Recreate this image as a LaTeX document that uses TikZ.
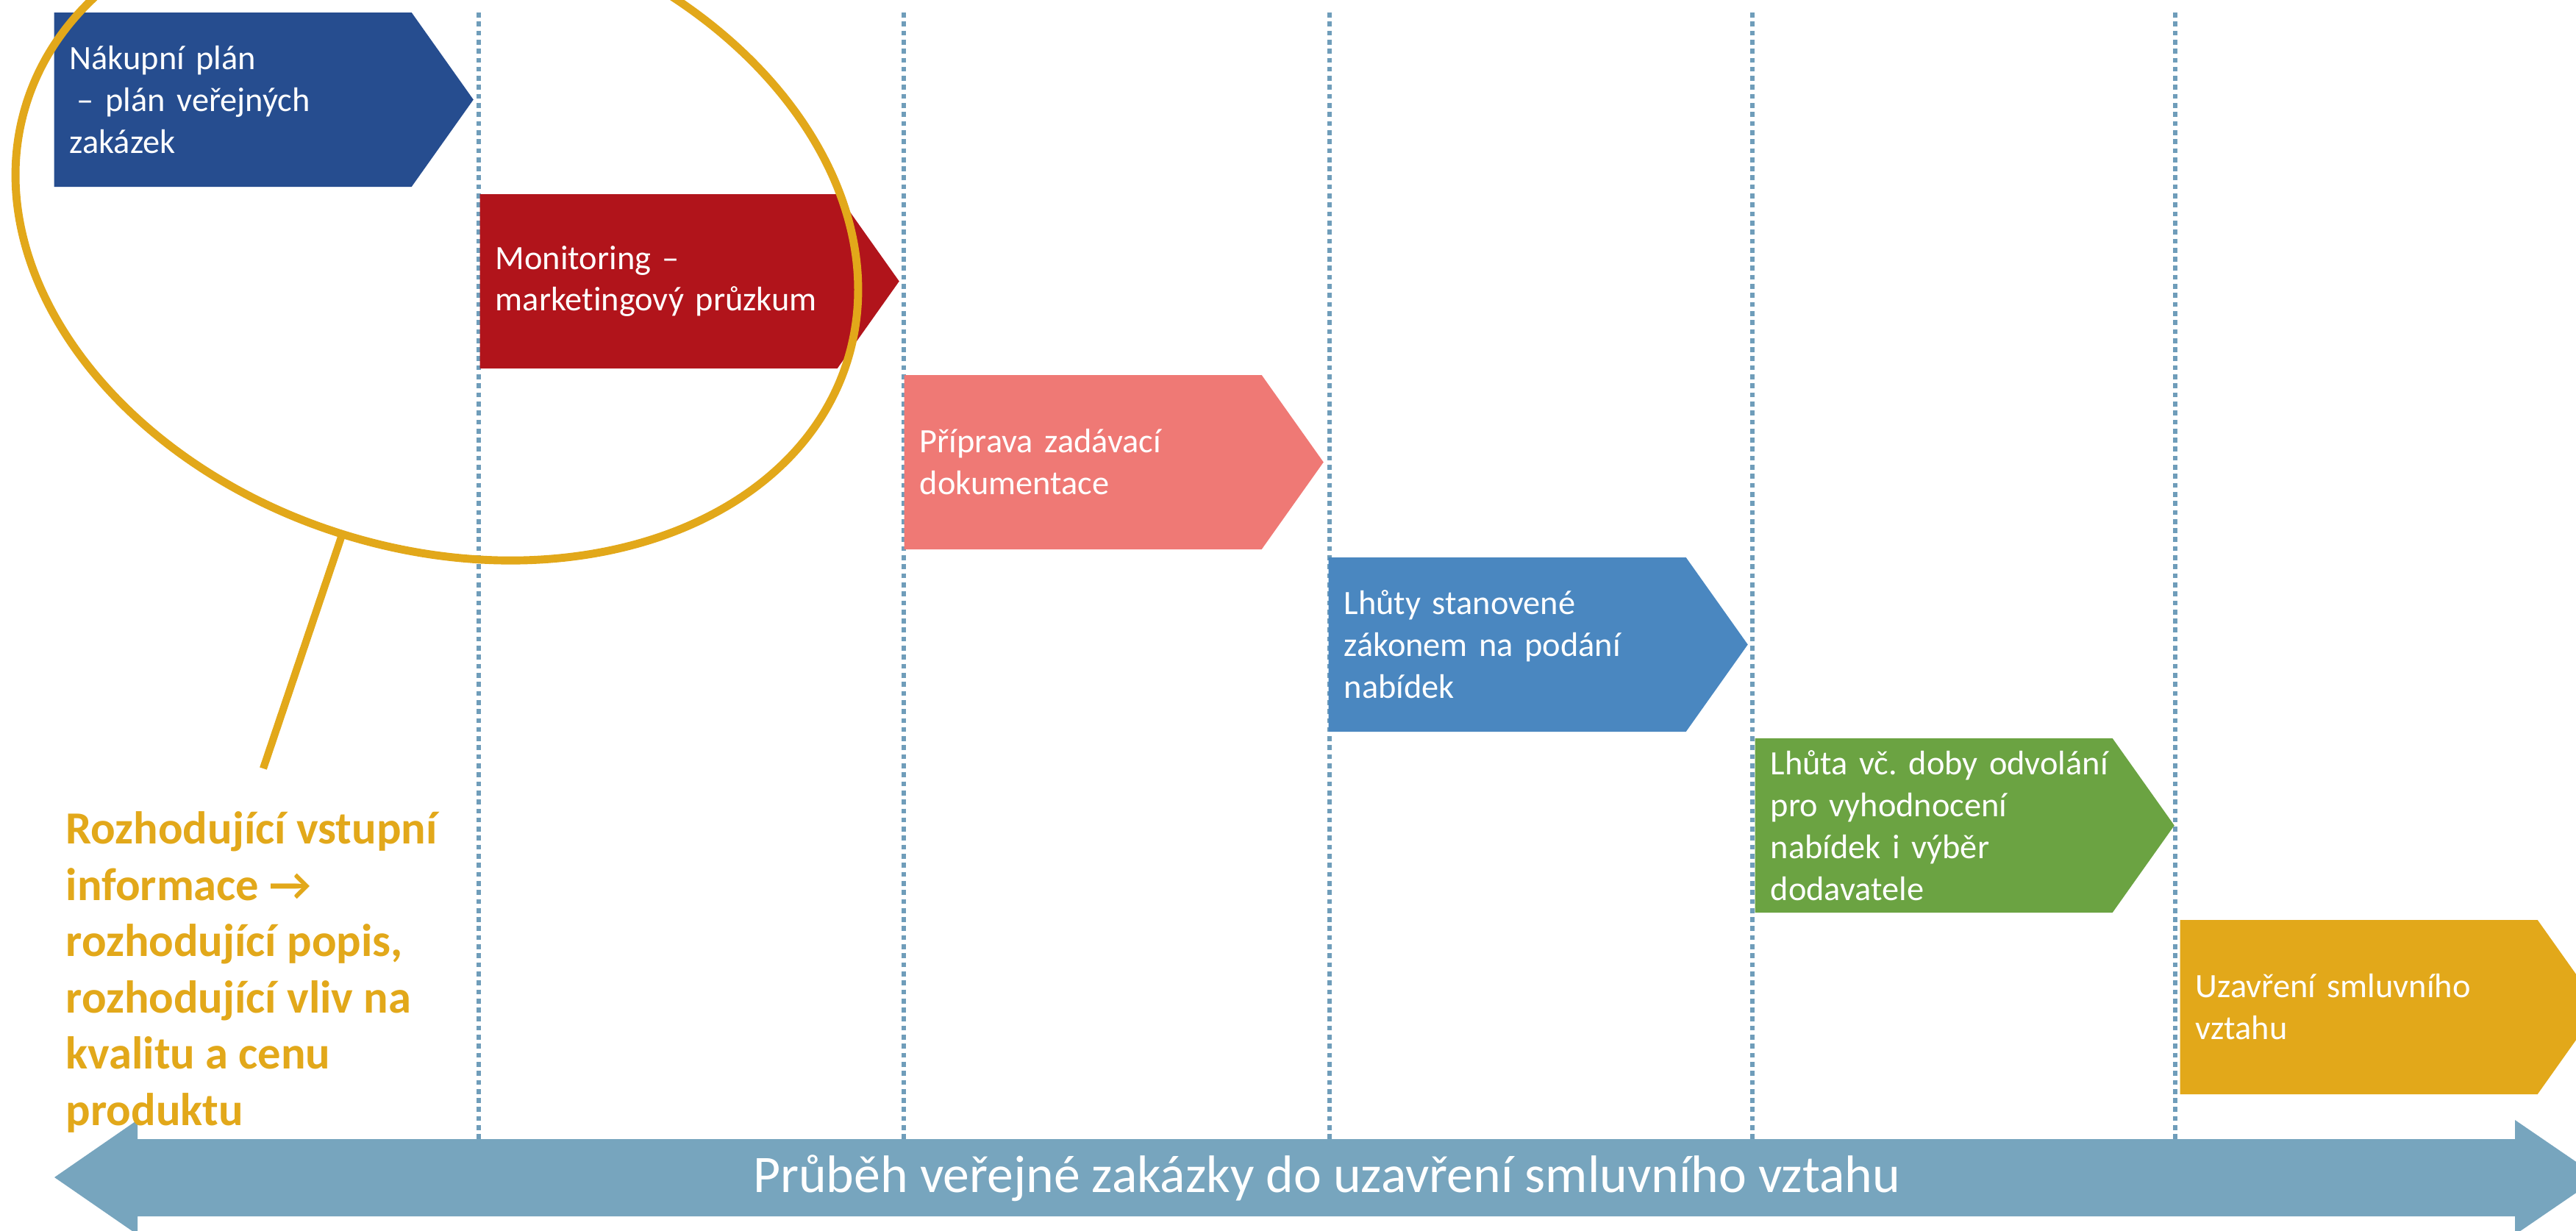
\documentclass[tikz,border=0pt]{standalone}
\usepackage{fontspec}
\setmainfont{Carlito}[Ligatures=NoCommon]
\usepackage{xcolor}
\usepackage{tikz}
\usetikzlibrary{shapes, shapes.symbols, shapes.geometric}

\definecolor{planblue}{HTML}{264D8F}
\definecolor{monred}{HTML}{B1141B}
\definecolor{docpink}{HTML}{EF7975}
\definecolor{lawblue}{HTML}{4A87C0}
\definecolor{evalgreen}{HTML}{6BA342}
\definecolor{contractgold}{HTML}{E2A81A}
\definecolor{flowblue}{HTML}{77A5BE}
\definecolor{gridblue}{HTML}{6F9DBA}

\frenchspacing
\begin{document}
\begin{tikzpicture}[
            stage/.style={signal, signal to=east, signal pointer angle=109.3, fill=#1, text=white,
                minimum height=2.37cm, text width=4.44cm, inner xsep=0.21cm, inner ysep=0.05cm,
                align=left, anchor=west, font={\fontsize{13.2pt}{16.2pt}\selectfont}},
            gridline/.style={gridblue, line width=1.5pt, dash pattern=on 1.9pt off 1.6pt}]
            \path[use as bounding box, clip] (0,0) rectangle (35.03,-16.73);

            \foreach \x in {6.51, 12.29, 18.08, 23.83, 29.58}
                \draw[gridline] (\x,-0.17) -- (\x,-15.49);

            \node[stage=planblue] (plan) at (0.73,-1.355) {Nákupní plán\\\hspace*{0.22em}– plán veřejných\\zakázek};
            \node[stage=monred] (monitor) at (6.52,-3.825) {Monitoring –\\marketingový průzkum};
            \node[stage=docpink] (docs) at (12.29,-6.285) {Příprava zadávací\\dokumentace};
            \node[stage=lawblue] (terms) at (18.06,-8.765) {Lhůty stanovené\\zákonem na podání\\nabídek};
            \node[stage=evalgreen] (eval) at (23.86,-11.225) {\mbox{Lhůta vč. doby odvolání}\\pro vyhodnocení\\nabídek i výběr\\dodavatele};
            \node[stage=contractgold] (contract) at (29.64,-13.695) {Uzavření smluvního\\vztahu};

            \fill[flowblue] (0.74,-16.01) -- (1.87,-15.23) -- (1.87,-15.49) -- (34.20,-15.49) -- (34.20,-15.23)
                -- (35.34,-16.01) -- (34.20,-16.79) -- (34.20,-16.54) -- (1.87,-16.54) -- (1.87,-16.79) -- cycle;
            \node[text=white, font={\fontsize{20.4pt}{24pt}\selectfont}] (flow) at (18.04,-16.02)
                {Průběh veřejné zakázky do uzavření smluvního vztahu};

            \node[draw=contractgold, line width=3.1pt, ellipse, minimum width=11.7cm, minimum height=8.6cm,
                inner sep=0, outer sep=0, rotate=-17.4] (focus) at (5.94,-3.16) {};
            \coordinate (lead) at (3.58,-10.45);
            \draw[contractgold, line width=2.9pt] (focus.south) -- (lead);

            \node[text=contractgold, align=left, anchor=west, inner sep=0,
                font={\bfseries\fontsize{17.8pt}{21.8pt}\selectfont}] (note) at (0.89,-13.22)
                {Rozhodující vstupní\\informace →\\rozhodující popis,\\rozhodující vliv na\\kvalitu a cenu\\produktu};
\end{tikzpicture}
\end{document}
